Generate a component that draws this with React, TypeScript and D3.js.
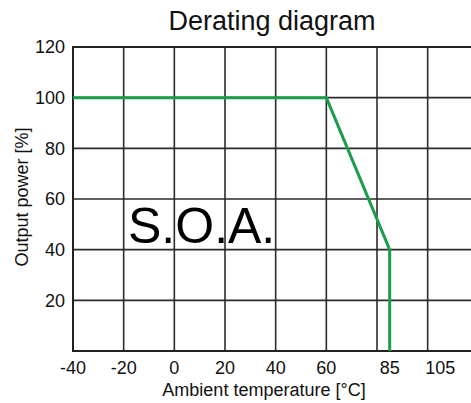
import * as d3 from "d3";

const WIDTH = 471;
const HEIGHT = 403;
const MARGIN = { top: 47, left: 73, bottom: 52 };

// derating curve
const tempC = [-40, 60, 85, 85];
const powerPct = [100, 100, 40, 0];

const xTickLabels = [-40, -20, 0, 20, 40, 60, 85, 105];
const xGridValues = [-20, 0, 20, 40, 60, 80, 100, 120];
const yTickLabels = [20, 40, 60, 80, 100, 120];
const yGridValues = [20, 40, 60, 80, 100];

const FONT = "'Liberation Sans', Arial, sans-serif";

export default function App() {
  const boundsHeight = HEIGHT - MARGIN.top - MARGIN.bottom;
  const pxPerUnit = boundsHeight / 120;

  const xScale = d3
    .scaleLinear()
    .domain([-40, 120])
    .range([MARGIN.left, MARGIN.left + 160 * pxPerUnit]);
  const yScale = d3
    .scaleLinear()
    .domain([0, 120])
    .range([MARGIN.top + boundsHeight, MARGIN.top]);

  const line = d3
    .line<number>()
    .x((d) => xScale(d))
    .y((_, i) => yScale(powerPct[i]));

  const x0 = xScale(-40);
  const xEnd = WIDTH;
  const yBottom = yScale(0);
  const yTop = yScale(120);

  return (
    <svg
      width={WIDTH}
      height={HEIGHT}
      style={{ position: "absolute", left: 0, top: 0, background: "#fff" }}
      fontFamily={FONT}
    >
      <text x={272} y={30} textAnchor="middle" fontSize={27} fill="#111">
        Derating diagram
      </text>

      {/* grid */}
      {xGridValues.map((v) => (
        <line
          key={"gx" + v}
          x1={xScale(v)}
          x2={xScale(v)}
          y1={yTop}
          y2={yBottom}
          stroke="#2b2b2b"
          strokeWidth={1.6}
        />
      ))}
      {yGridValues.map((v) => (
        <line
          key={"gy" + v}
          x1={x0}
          x2={xEnd}
          y1={yScale(v)}
          y2={yScale(v)}
          stroke="#2b2b2b"
          strokeWidth={1.6}
        />
      ))}
      {/* frame */}
      <path
        d={`M${xEnd},${yTop}H${x0}V${yBottom}H${xEnd}`}
        fill="none"
        stroke="#222"
        strokeWidth={2}
      />

      <text x={128} y={243} fontSize={50} fill="#000">
        S.O.A.
      </text>

      <path
        d={line(tempC) ?? ""}
        fill="none"
        stroke="#1b9e4b"
        strokeWidth={3}
        strokeLinejoin="round"
      />

      {/* y tick labels */}
      {yTickLabels.map((v) => (
        <text
          key={"ty" + v}
          x={65}
          y={yScale(v)}
          dy="0.35em"
          textAnchor="end"
          fontSize={18}
          fill="#111"
        >
          {v}
        </text>
      ))}
      {/* x tick labels */}
      {xTickLabels.map((v) => (
        <text
          key={"tx" + v}
          x={xScale(v)}
          y={374}
          textAnchor="middle"
          fontSize={18}
          fill="#111"
        >
          {v}
        </text>
      ))}

      <text x={264} y={396} textAnchor="middle" fontSize={18} fill="#111">
        Ambient temperature [°C]
      </text>
      <text
        transform={`translate(28,197) rotate(-90)`}
        textAnchor="middle"
        fontSize={18}
        fill="#111"
      >
        Output power [%]
      </text>
    </svg>
  );
}
